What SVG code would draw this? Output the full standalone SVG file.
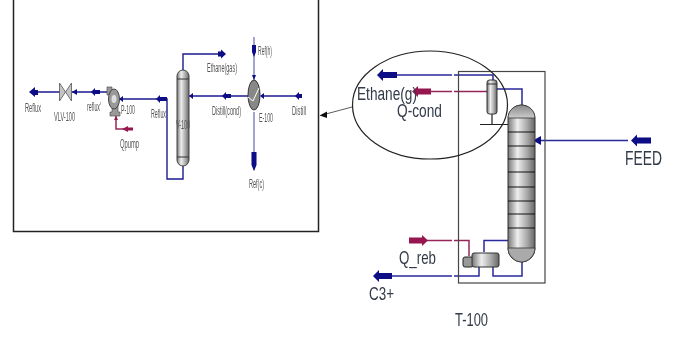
<svg xmlns="http://www.w3.org/2000/svg" width="686" height="338" viewBox="0 0 686 338">
<style>
text{font-family:"Liberation Sans",Arial,sans-serif;fill:#333a48}
.s{font-size:12px;fill:#555}
.b{font-size:19px}
.blue{fill:none;stroke:#2a2a9a;stroke-width:1.500}
.blueS{fill:none;stroke:#1a1a90;stroke-width:1.400}
.thin{fill:none;stroke:#1a1a90;stroke-width:.8}
.red{fill:none;stroke:#96285a;stroke-width:1.500}
.frame{fill:none;stroke:#222;stroke-width:1.500}
.tray{stroke:#111;stroke-width:1.200}
</style>
<defs>
<linearGradient id="g"><stop offset="0" stop-color="#777"/><stop offset=".35" stop-color="#eee"/><stop offset=".7" stop-color="#aaa"/><stop offset="1" stop-color="#666"/></linearGradient>
<linearGradient id="d" x2="0" y2="1"><stop offset="0" stop-color="#888"/><stop offset="1" stop-color="#ccc"/></linearGradient>
<filter id="soft" x="-5%" y="-5%" width="110%" height="110%"><feGaussianBlur stdDeviation="0.45"/></filter>
</defs>
<rect width="686" height="338" fill="#fff"/>
<g id="connectors" filter="url(#soft)">
<path class="blueS" d="M36 92H60M72 92H107M119 99H167V179H183V166"/>
<path class="blueS" d="M183 70V54H222M189 96H248M262 96H300"/>
<path class="thin" d="M254 37V80M254 112V170"/>
<path class="red" d="M116 116V129H126"/>
<path class="blue" d="M397 75H452M454 75H493V80M497 89H522V105M540 140.500H628"/>
<path class="red" d="M431 91.500H452M454 91.500H487"/>
<path class="red" d="M425 240.500H452M454 240.500H469V256"/>
<path class="blue" d="M392 276H452M454 276H479V267M484 252V240.500H508M493 267V276H522V261"/>
<g fill="#0b0b86">
<path d="M29 92L35 87V90H38V95H35V97Z"/>
<path d="M72 92L77 89V95Z"/>
<path d="M91 92L95 88V90H100V94H95V96Z"/>
<path d="M119 99L123 96V102Z"/>
<path d="M156 99L160 95V97H167V101H160V103Z"/>
<path d="M226 54L221 49.500V51.500H218V56.500H221V58.500Z"/>
<path d="M189 96L193 93V99Z"/>
<path d="M222 96L226 92V94H231V98H226V100Z"/>
<path d="M260 96L264 93V99Z"/>
<path d="M295 96L299 92V94H302V98H299V100Z"/>
<path d="M254 57L252 52V45H256V52Z"/>
<path d="M254 171L251.500 165V152H256.500V165Z"/>
<path d="M254 80L252 75H256Z"/>
<path d="M377 75L383 69V72H397V78H383V81Z"/>
<path d="M533 140.500L541 136V145Z"/>
<path d="M631 140.500L637 134.500V137.500H651V143.500H637V146.500Z"/>
<path d="M373 276L379 270V273H392V279H379V282Z"/>
</g>
<g fill="#96184f">
<path d="M412 91.500L418 86V88.500H431V94.500H418V97Z"/>
<path d="M428 240.500L422 235V237.500H409V243.500H422V246Z"/>
<path d="M122 129L128 126V127.500H133V130.500H128V132Z"/>
<path d="M116 116L114 120H118Z"/>
</g>
</g>
<g id="inset-frame"><path d="M13.500 0V231.500H318.500V0" class="frame"/></g>
<g id="VLV-100" filter="url(#soft)"><path d="M59.500 83L71.500 101V83L59.500 101Z" fill="#c4c4c4" stroke="#555" stroke-width=".8"/><text class="s" x="54" y="121" textLength="21" lengthAdjust="spacingAndGlyphs">VLV-100</text></g>
<g id="P-100" filter="url(#soft)"><path d="M107 87H112V112H110V116H120V112H118V100H112V95H107Z" fill="#999" stroke="#444" stroke-width=".6"/><ellipse cx="114" cy="99" rx="5.500" ry="10" fill="#999" stroke="#444"/><ellipse cx="114" cy="99" rx="2.500" ry="4" fill="#ddd"/><text class="s" x="121" y="114" textLength="14" lengthAdjust="spacingAndGlyphs">P-100</text></g>
<g id="V-100" filter="url(#soft)"><rect x="177" y="70" width="12" height="96" rx="6" fill="url(#g)" stroke="#444"/><path d="M177 79H189M177 157H189" stroke="#333"/><text class="s" x="176" y="129" textLength="14" lengthAdjust="spacingAndGlyphs">V-100</text></g>
<g id="E-100" filter="url(#soft)"><ellipse cx="254" cy="95" rx="6" ry="15" fill="#888" stroke="#333"/><path d="M248 97L253 101L259 88" fill="none" stroke="#fff" stroke-width="1"/><text class="s" x="259" y="122" textLength="14" lengthAdjust="spacingAndGlyphs">E-100</text></g>
<g id="inset-labels" filter="url(#soft)">
<text class="s" x="25" y="112" textLength="16" lengthAdjust="spacingAndGlyphs">Reflux</text>
<text class="s" x="87" y="111" textLength="14" lengthAdjust="spacingAndGlyphs">reflux'</text>
<text class="s" x="151" y="118" textLength="16" lengthAdjust="spacingAndGlyphs">Reflux'</text>
<text class="s" x="120" y="148" textLength="19" lengthAdjust="spacingAndGlyphs">Qpump</text>
<text class="s" x="207" y="72" textLength="30" lengthAdjust="spacingAndGlyphs">Ethane(gas)</text>
<text class="s" x="212" y="115" textLength="29" lengthAdjust="spacingAndGlyphs">Distill(cond)</text>
<text class="s" x="292" y="115" textLength="14" lengthAdjust="spacingAndGlyphs">Distill</text>
<text class="s" x="258" y="55" textLength="14" lengthAdjust="spacingAndGlyphs">Ref(h)</text>
<text class="s" x="249" y="188" textLength="15" lengthAdjust="spacingAndGlyphs">Ref(c)</text>
</g>
<g id="T-100" filter="url(#soft)">
<rect x="458.500" y="71.500" width="86.500" height="211.500" fill="none" stroke="#444" stroke-width="1.200"/>
<rect x="508" y="105" width="27" height="157" rx="13.500" fill="url(#g)" stroke="#333"/>
<path d="M508 118C508 110 515 105 521.500 105C528 105 535 110 535 118Z" fill="url(#d)" stroke="#333" stroke-width=".8"/>
<path d="M508 248H535C535 256 528 262 521.500 262C515 262 508 256 508 248Z" fill="#aaa" stroke="#333" stroke-width=".8"/>
<g class="tray"><path d="M508 132H535M508 146H535M508 159H535M508 172H535M508 187H535M508 201H535M508 214H535M508 228H535"/></g>
<path d="M492 114V124M480 124.500H508" stroke="#222" stroke-width="1.200" fill="none"/>
<rect x="487" y="80" width="10" height="34" rx="2.500" fill="url(#g)" stroke="#333"/>
<path d="M487 84H497" stroke="#333"/>
<rect x="463" y="257" width="10" height="10" rx="2" fill="#999" stroke="#222"/>
<rect x="472" y="253" width="27" height="14" rx="2" fill="url(#g)" stroke="#333"/>
<text class="b" x="455" y="326" textLength="33" lengthAdjust="spacingAndGlyphs">T-100</text>
</g>
<g id="callout" filter="url(#soft)">
<ellipse cx="430" cy="105" rx="77.500" ry="54" fill="none" stroke="#222" stroke-width="1.200"/>
<path d="M352 107L324 114.500" stroke="#333" stroke-width=".8"/>
<path d="M319.500 115.500L327 111.500V118Z" fill="#111"/>
</g>
<g id="stream-labels" filter="url(#soft)">
<text class="b" x="357" y="100" textLength="60" lengthAdjust="spacingAndGlyphs">Ethane(g)</text>
<text class="b" x="397" y="117" textLength="45" lengthAdjust="spacingAndGlyphs">Q-cond</text>
<text class="b" x="625" y="165" style="font-size:21px" textLength="37" lengthAdjust="spacingAndGlyphs">FEED</text>
<text class="b" x="399" y="264" textLength="37" lengthAdjust="spacingAndGlyphs">Q_reb</text>
<text class="b" x="369" y="300" textLength="25" lengthAdjust="spacingAndGlyphs">C3+</text>
</g>
</svg>
